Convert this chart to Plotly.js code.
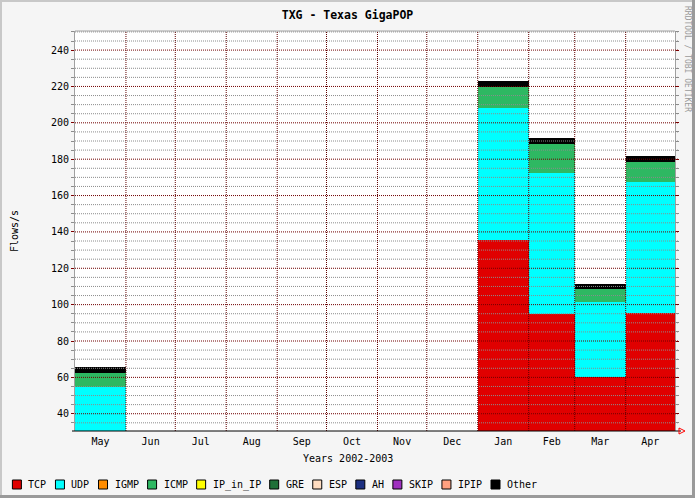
<!DOCTYPE html>
<html>
<head>
<meta charset="utf-8">
<script src="https://cdn.plot.ly/plotly-3.0.1.min.js"></script>
<style>html,body{margin:0;padding:0;background:#f5f5f5;}#chart{width:695px;height:498px;}</style>
</head>
<body>
<div id="chart"></div>
<script>
// ---- data ----
const months = ['2002-05-01','2002-06-01','2002-07-01','2002-08-01','2002-09-01','2002-10-01',
                '2002-11-01','2002-12-01','2003-01-01','2003-02-01','2003-03-01','2003-04-01'];
const periodEnd = '2003-05-01';
const tcp    = [0,    null,null,null,null,null,null,null, 135.6, 94.9, 60.0, 95.3];
const udp    = [54.5, null,null,null,null,null,null,null, 72.7, 77.5, 41.5, 72.2];
const igmp   = [0,    null,null,null,null,null,null,null, 0, 0, 0, 0];
const icmp   = [8.1,  null,null,null,null,null,null,null, 11.2, 16.0, 7.1, 11.0];
const ipInIp = [0,    null,null,null,null,null,null,null, 0, 0, 0, 0];
const gre    = [0,    null,null,null,null,null,null,null, 0, 0, 0, 0];
const esp    = [0,    null,null,null,null,null,null,null, 0, 0, 0, 0];
const ah     = [0,    null,null,null,null,null,null,null, 0, 0, 0, 0];
const skip   = [0,    null,null,null,null,null,null,null, 0, 0, 0, 0];
const ipip   = [0,    null,null,null,null,null,null,null, 0, 0, 0, 0];
const other  = [3.3,  null,null,null,null,null,null,null, 3.5, 3.1, 2.8, 3.3];

const seriesNames  = ['TCP','UDP','IGMP','ICMP','IP_in_IP','GRE','ESP','AH','SKIP','IPIP','Other'];
const seriesValues = [tcp, udp, igmp, icmp, ipInIp, gre, esp, ah, skip, ipip, other];
const seriesColors = ['#e00000','#00ffff','#ff8c00','#2eb862','#ffff00','#1f7038','#ffdcc0','#1c2f80','#a030c0','#ffa080','#000000'];

const yMin = 30.5, yMax = 250.5;

// ---- geometry helpers (layout pixels) ----
const W = 695, H = 498;
const M = {l:75, r:20, t:31, b:67};
const PW = W - M.l - M.r, PH = H - M.t - M.b;
const px = x => (x - M.l) / PW;
const py = y => (H - M.b - y) / PH;

const edges = months.concat([periodEnd]);
const widths = months.map((m,i) => new Date(edges[i+1]) - new Date(m));

const traces = seriesNames.map((name,i) => ({
  type:'bar', name:name, x:months, y:seriesValues[i],
  width:widths, offset:0,
  marker:{color:seriesColors[i], line:{width:0}},
  showlegend:false, hoverinfo:'x+y+name'
}));

const shapes = [];
// horizontal grid (drawn above the areas, like the original)
for (let v = 35; v <= 250; v += 5) {
  const major = v % 20 === 0;
  shapes.push({type:'line', xref:'paper', yref:'y', x0:0, x1:px(678), y0:v, y1:v, layer:'above',
    line:{color: major ? '#700000' : '#8c8c8c', width:1, dash:'1px,1px'}});
}
// vertical grid at month boundaries
for (let i = 1; i < months.length; i++) {
  shapes.push({type:'line', xref:'x', yref:'paper', x0:months[i], x1:months[i], y0:0, y1:1, layer:'above',
    line:{color:'#600000', width:1, dash:'1px,1px'}});
}
// plot frame: top
shapes.push({type:'line', xref:'paper', yref:'paper', x0:0, x1:1, y0:1, y1:1, layer:'above', line:{color:'#a0a0a0', width:1}});
// bottom axis line (black) with red arrow
shapes.push({type:'line', xref:'paper', yref:'paper', x0:px(72), x1:px(681), y0:0, y1:0, layer:'above', line:{color:'#000000', width:1}});
shapes.push({type:'path', xref:'paper', yref:'paper', layer:'above',
  path:`M ${px(679)} ${py(428)} L ${px(679)} ${py(434)} L ${px(685)} ${py(431)} Z`,
  line:{color:'#ff0000', width:1}, fillcolor:'rgba(0,0,0,0)'});
// image border (3D frame)
shapes.push({type:'rect', xref:'paper', yref:'paper', x0:px(0), x1:px(695), y0:py(0), y1:py(2), line:{width:0}, fillcolor:'#c8c8c8', layer:'above'});
shapes.push({type:'rect', xref:'paper', yref:'paper', x0:px(0), x1:px(2), y0:py(0), y1:py(498), line:{width:0}, fillcolor:'#c8c8c8', layer:'above'});
shapes.push({type:'rect', xref:'paper', yref:'paper', x0:px(692), x1:px(695), y0:py(0), y1:py(498), line:{width:0}, fillcolor:'#9a9a9a', layer:'above'});
shapes.push({type:'rect', xref:'paper', yref:'paper', x0:px(0), x1:px(695), y0:py(495), y1:py(498), line:{width:0}, fillcolor:'#9a9a9a', layer:'above'});

const annotations = [];
const mono = 'DejaVu Sans Mono, monospace';
// custom legend
let lx = 12.4;
seriesNames.forEach((name,i) => {
  shapes.push({type:'rect', xref:'paper', yref:'paper', x0:px(lx), x1:px(lx+9), y0:py(480), y1:py(489),
    fillcolor:seriesColors[i], line:{color:'#000000', width:1}, layer:'above'});
  annotations.push({xref:'paper', yref:'paper', x:px(lx+14), y:py(484.5), xanchor:'left', yanchor:'middle',
    text:name, showarrow:false, font:{family:mono, size:10, color:'#000'}});
  lx += 25.06 + name.length * 6;
});
// x axis title, centred on the image
annotations.push({xref:'paper', yref:'paper', x:px(347.5), y:py(458.5), xanchor:'center', yanchor:'middle',
  text:'Years 2002-2003', showarrow:false, font:{family:mono, size:10, color:'#000'}});
// credit text
annotations.push({xref:'paper', yref:'paper', x:px(688), y:py(4), xanchor:'center', yanchor:'top',
  text:'RRDTOOL / TOBI OETIKER', textangle:90, showarrow:false, font:{family:mono, size:8, color:'#9a9a9a'}});

const layout = {
  width:W, height:H,
  margin:M,
  paper_bgcolor:'#f5f5f5', plot_bgcolor:'#ffffff',
  barmode:'stack', bargap:0, showlegend:false,
  font:{family:mono, size:10, color:'#000'},
  title:{text:'TXG - Texas GigaPOP', x:0.5, xref:'container', y:1-15/H, yref:'container', yanchor:'middle',
    font:{family:mono, size:11.5, color:'#000', weight:'bold'}},
  xaxis:{type:'date', range:[months[0], periodEnd], dtick:'M1', tick0:months[0], ticklabelmode:'period',
    tickformat:'%b', showgrid:false, zeroline:false, showline:false, ticks:'', fixedrange:true,
    ticklabelstandoff:3,
    tickfont:{family:mono, size:10, color:'#000'}},
  yaxis:{range:[yMin, yMax], tick0:0, dtick:20, showgrid:false, zeroline:false,
    showline:true, linecolor:'#a0a0a0', linewidth:1, mirror:'allticks',
    ticks:'outside', ticklen:3, tickcolor:'#800000',
    minor:{dtick:5, ticks:'outside', ticklen:3, tickcolor:'#8c8c8c', showgrid:false},
    tickfont:{family:mono, size:10, color:'#000'},
    title:{text:'Flows/s', standoff:30, font:{family:mono, size:10, color:'#000'}}, fixedrange:true},
  shapes:shapes, annotations:annotations
};

Plotly.newPlot('chart', traces, layout, {displayModeBar:false, staticPlot:true});
</script>
</body>
</html>
